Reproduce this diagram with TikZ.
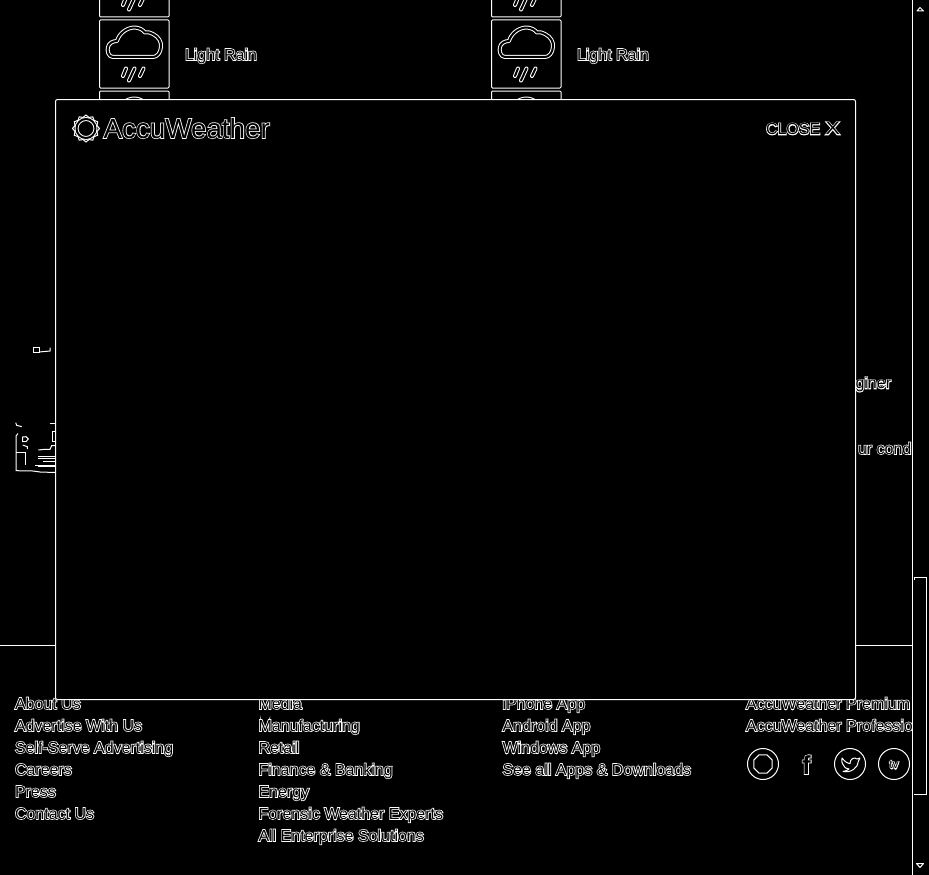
\documentclass[tikz,border=0pt]{standalone}
\usepackage{fontspec}
\setmainfont{Liberation Sans}
\usetikzlibrary{shapes.geometric}
\newcommand\outln[1]{\rlap{\special{pdf:code q 1 Tr 1.5 w 1 1 1 RG 0 0 0 rg}#1\special{pdf:code Q}}#1}
\tikzset{
  ln/.style={draw=white,line width=1pt},
  dbl/.style={draw=white,line width=1pt,double=black,double distance=2pt,line cap=round,line join=round},
  txt/.style={text=black,inner sep=0pt,outer sep=0pt,anchor=base west,font=\fontsize{16}{18}\selectfont},
  iconbox/.style={ln,rounded corners=1pt},
  modal/.style={ln,fill=black,rounded corners=2pt},
  ring/.style={ln,circle,minimum size=31pt,inner sep=0pt,outer sep=0pt},
}
\newcommand\wcell[2]{%
  \begin{scope}[shift={(#1,#2)}]
    \draw[iconbox] (0.5,0) rectangle (70,68);
    \draw[dbl] (14,37) .. controls (9,37) and (8,30) .. (9,27)
      .. controls (10,23) and (14,21) .. (18,21)
      .. controls (20,14) and (27,7.5) .. (36,7.5)
      .. controls (41,8) and (44,10) .. (46,12.5)
      .. controls (49,12) and (52,12.5) .. (54,14)
      .. controls (60,17) and (62.5,22) .. (62,27)
      .. controls (61.5,33) and (58,37) .. (54,37) -- cycle;
    \draw[dbl] (24,56) -- (27,48.5);
    \draw[dbl] (30,60.5) -- (35.5,48.5);
    \draw[dbl] (41,56) -- (44.5,48.5);
  \end{scope}}
\begin{document}
\begin{tikzpicture}[x=1pt,y=-1pt]
\useasboundingbox (0,0) rectangle (929,875);
\fill[black] (0,0) rectangle (929,875);
\begin{scope}
\clip (0,0) rectangle (929,875);
% weather cells behind the modal
\wcell{99}{-51}\wcell{99}{20}\wcell{99}{91}
\wcell{491}{-51}\wcell{491}{20}\wcell{491}{91}
\node[txt] (rainA) at (185,60) {\outln{Light Rain}};
\node[txt] (rainB) at (577,60) {\outln{Light Rain}};
% left fragments
\draw[ln] (33.5,347.5) rectangle (39,352.5);
\draw[ln] (39,352) -- (50,351) -- (50,347.5);
\draw[ln] (15.7,422.7) -- (16.7,425.3) -- (21.7,426.7);
\draw[ln] (50,423.3) -- (55,423.3);
\draw[ln] (55,431.7) -- (52.3,431.7) -- (52.3,441) -- (55,441);
\draw[ln] (18,433.5) -- (16,436) -- (16,470.7) -- (33,471) -- (40,472) -- (55,472.5);
\draw[ln] (22.5,437) -- (26,436.7) -- (28.3,439) -- (26,441.7) -- (22.5,441.7) -- cycle;
\draw[ln] (22.7,445) -- (27.3,446.7) -- (27.3,449);
\draw[ln] (16,452.7) -- (25,452.7) -- (25,465);
\draw[ln] (38.3,450) -- (45,449.3) -- (50,449.3) -- (51.7,445.7) -- (55,445.7);
\draw[ln] (38.3,456) -- (55,456);
\draw[ln] (38.3,458.3) -- (55,458.3);
\draw[ln] (43.3,461) -- (55,461);
\draw[ln] (35,465) -- (55,465);
\draw[ln] (38.3,466.7) -- (55,466.7);
% right fragments
\begin{scope}
\clip (855,300) rectangle (912,500);
\node[txt] (fragA) at (855.5,388.5) {\outln{giner}};
\node[txt] (fragB) at (858,454) {\outln{ur cond}};
\end{scope}
% footer
\draw[ln] (0,645.5) -- (912,645.5);
\begin{scope}
\clip (0,650) rectangle (912,875);
\node[txt] (a1) at (15,709) {\outln{About Us}};
\node[txt] (a2) at (15,731) {\outln{Advertise With Us}};
\node[txt] (a3) at (15,753) {\outln{Self-Serve Advertising}};
\node[txt] (a4) at (15,775) {\outln{Careers}};
\node[txt] (a5) at (15,797) {\outln{Press}};
\node[txt] (a6) at (15,819) {\outln{Contact Us}};
\node[txt] (b1) at (258.5,709) {\outln{Media}};
\node[txt] (b2) at (258.5,731) {\outln{Manufacturing}};
\node[txt] (b3) at (258.5,753) {\outln{Retail}};
\node[txt] (b4) at (258.5,775) {\outln{Finance \& Banking}};
\node[txt] (b5) at (258.5,797) {\outln{Energy}};
\node[txt] (b6) at (258.5,819) {\outln{Forensic Weather Experts}};
\node[txt] (b7) at (258.5,841) {\outln{All Enterprise Solutions}};
\node[txt] (c1) at (502.5,709) {\outln{iPhone App}};
\node[txt] (c2) at (502.5,731) {\outln{Android App}};
\node[txt] (c3) at (502.5,753) {\outln{Windows App}};
\node[txt] (c4) at (502.5,775) {\outln{See all Apps \& Downloads}};
\node[txt] (d1) at (746,709) {\outln{AccuWeather Premium}};
\node[txt] (d2) at (746,731) {\outln{AccuWeather Professional}};
\end{scope}
% social icons
\node[ring] (insta) at (763,764) {};
\node[ln,regular polygon,regular polygon sides=8,minimum size=20pt,inner sep=0pt] (instaIn) at (763,764) {};
\node[txt,anchor=base,font=\fontsize{26}{28}\bfseries] (fb) at (806.5,774) {\outln{f}};
\node[ring] (tw) at (850,764) {};
\draw[ln,line join=round] (842,758) .. controls (845,762) and (848,763.5) .. (850,763.5)
  .. controls (850,759) and (854,756.5) .. (857,759) -- (860,758) -- (858.5,761)
  .. controls (858,768) and (851,773) .. (843,771.5)
  .. controls (846,771) and (848,770) .. (849,769)
  .. controls (846,769) and (844,767) .. (844,766)
  .. controls (842,763) and (841,761) .. (842,758) -- cycle;
\node[ring] (tv) at (894,764) {};
\node[txt,anchor=base,font=\fontsize{12}{14}\selectfont] (tvt) at (894,768.5) {\outln{tv}};
% modal
\draw[modal] (55.5,99.5) rectangle (855.5,699.5);
\node[ln,star,star points=12,star point ratio=1.18,minimum size=27pt,inner sep=0pt] (sun) at (86,128.5) {};
\node[dbl,circle,minimum size=19pt,inner sep=0pt] (sunIn) at (86,128.5) {};
\node[txt,font=\fontsize{27.8}{30}\selectfont] (logo) at (103.5,138) {\outln{AccuWeather}};
\node[txt] (close) at (766,134.5) {\outln{CLOSE}};
\node[txt,font=\fontsize{18}{20}\selectfont,xscale=1.2] (closeX) at (825.5,134.5) {\outln{X}};
% scrollbar
\draw[ln] (912.5,0) -- (912.5,875);
\draw[ln] (914,579.5) -- (914,577.5) -- (926.5,577.5) -- (926.5,794) -- (914,794);
\draw[ln,line join=round] (917,11) -- (920,7.5) -- (923.5,11) -- cycle;
\draw[ln,line join=round] (916.5,863.5) -- (923.5,863.5) -- (920,867.5) -- cycle;
\end{scope}
\end{tikzpicture}
\end{document}
